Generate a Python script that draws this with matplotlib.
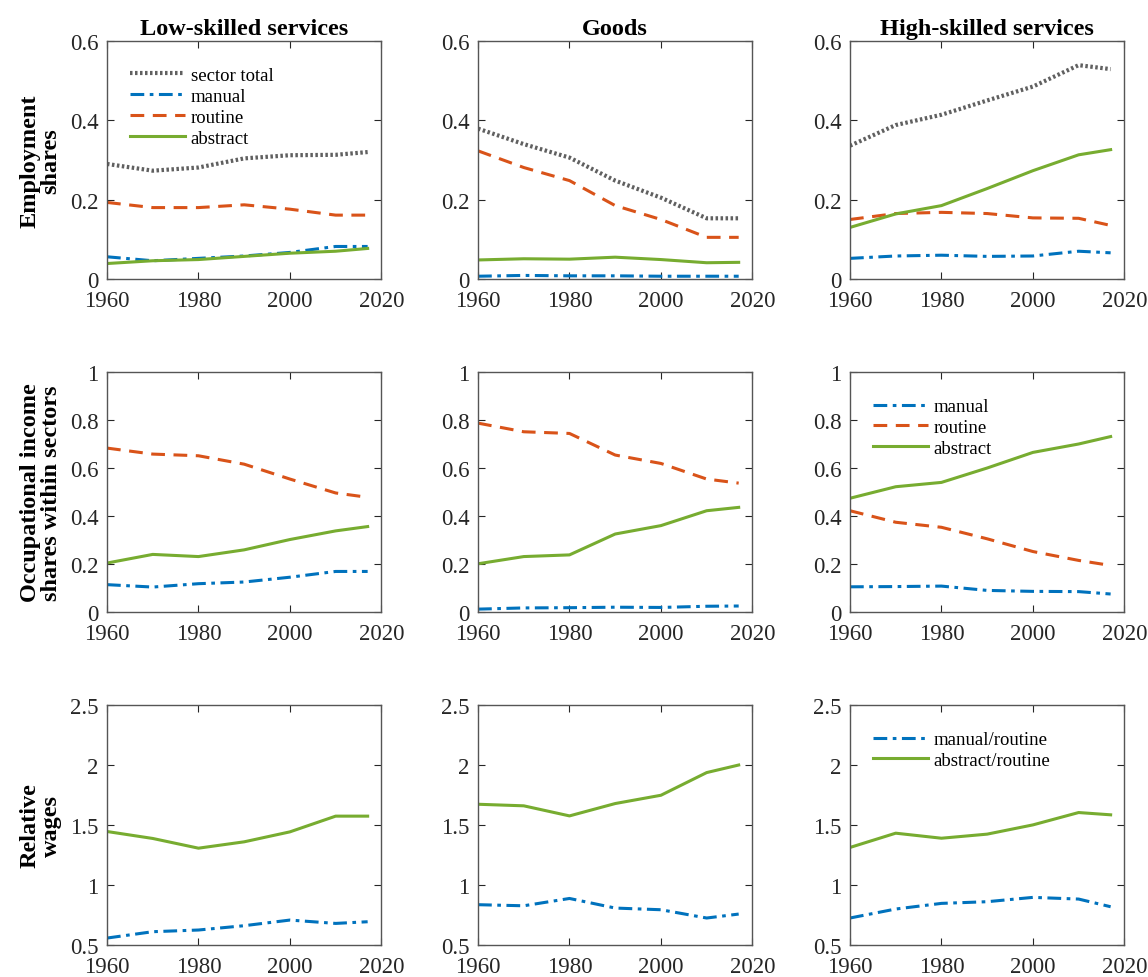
import matplotlib
matplotlib.use('Agg')
import matplotlib.pyplot as plt

plt.rcParams['font.family'] = ['Liberation Serif', 'DejaVu Serif']
plt.rcParams['mathtext.fontset'] = 'stix'

years = [1960, 1970, 1980, 1990, 2000, 2010, 2017]
sectors = ['Low-skilled services', 'Goods', 'High-skilled services']
row_labels = ['Employment\nshares', 'Occupational income\nshares within sectors', 'Relative\nwages']

# employment shares
emp_total = [[0.290, 0.273, 0.281, 0.304, 0.312, 0.313, 0.320],
             [0.379, 0.340, 0.306, 0.248, 0.205, 0.153, 0.153],
             [0.336, 0.388, 0.414, 0.450, 0.485, 0.539, 0.529]]
emp_manual = [[0.056, 0.046, 0.052, 0.058, 0.067, 0.082, 0.082],
              [0.007, 0.009, 0.008, 0.008, 0.007, 0.007, 0.007],
              [0.052, 0.058, 0.060, 0.057, 0.058, 0.070, 0.066]]
emp_routine = [[0.193, 0.180, 0.180, 0.187, 0.176, 0.161, 0.161],
               [0.323, 0.281, 0.248, 0.185, 0.150, 0.105, 0.105],
               [0.150, 0.165, 0.168, 0.165, 0.154, 0.153, 0.135]]
emp_abstract = [[0.039, 0.046, 0.049, 0.057, 0.065, 0.070, 0.077],
                [0.048, 0.051, 0.050, 0.055, 0.049, 0.041, 0.042],
                [0.130, 0.164, 0.185, 0.228, 0.273, 0.313, 0.326]]

# occupational income shares within sectors
inc_manual = [[0.114, 0.104, 0.118, 0.125, 0.145, 0.169, 0.169],
              [0.012, 0.017, 0.018, 0.020, 0.019, 0.024, 0.025],
              [0.105, 0.106, 0.108, 0.090, 0.086, 0.085, 0.075]]
inc_routine = [[0.683, 0.658, 0.651, 0.616, 0.554, 0.496, 0.478],
               [0.787, 0.751, 0.744, 0.654, 0.619, 0.554, 0.537],
               [0.422, 0.374, 0.353, 0.305, 0.252, 0.215, 0.194]]
inc_abstract = [[0.204, 0.240, 0.231, 0.259, 0.302, 0.338, 0.356],
                [0.201, 0.231, 0.238, 0.325, 0.360, 0.422, 0.436],
                [0.474, 0.522, 0.540, 0.600, 0.665, 0.700, 0.731]]

# relative wages
wage_manual = [[0.558, 0.611, 0.625, 0.661, 0.708, 0.680, 0.694],
               [0.836, 0.827, 0.888, 0.808, 0.794, 0.725, 0.758],
               [0.725, 0.800, 0.847, 0.861, 0.897, 0.883, 0.819]]
wage_abstract = [[1.446, 1.388, 1.307, 1.360, 1.443, 1.574, 1.574],
                 [1.673, 1.660, 1.576, 1.679, 1.748, 1.937, 2.000],
                 [1.313, 1.432, 1.390, 1.424, 1.501, 1.604, 1.585]]

c_blue = '#0072BD'
c_orange = '#D95319'
c_green = '#77AC30'
c_grey = '#606060'
lw = 2.2
st_dot = dict(color=c_grey, lw=3.0, ls=(0, (0.6, 0.6)))
st_man = dict(color=c_blue, lw=lw, ls=(0, (4.5, 1.8, 1.2, 1.8)))
st_rou = dict(color=c_orange, lw=lw, ls=(0, (4.5, 2.8)))
st_abs = dict(color=c_green, lw=lw, ls='-')

fig = plt.figure(figsize=(11.48, 9.78), dpi=100)
lefts = [0.0932, 0.4164, 0.7404]
bottoms = [0.7137, 0.3732, 0.0327]
heights = [0.2434, 0.2454, 0.2454]
width = 0.2390

axes = [[fig.add_axes([lefts[j], bottoms[i], width, heights[i]]) for j in range(3)] for i in range(3)]

for j in range(3):
    ax = axes[0][j]
    ax.plot(years, emp_total[j], label='sector total', **st_dot)
    ax.plot(years, emp_manual[j], label='manual', **st_man)
    ax.plot(years, emp_routine[j], label='routine', **st_rou)
    ax.plot(years, emp_abstract[j], label='abstract', **st_abs)
    ax.set_ylim(0, 0.6)
    ax.set_yticks([0, 0.2, 0.4, 0.6])
    ax.set_yticklabels(['0', '0.2', '0.4', '0.6'])
    ax.set_title(sectors[j], fontsize=17.5, fontweight='bold', pad=5)

    ax = axes[1][j]
    ax.plot(years, inc_manual[j], label='manual', **st_man)
    ax.plot(years, inc_routine[j], label='routine', **st_rou)
    ax.plot(years, inc_abstract[j], label='abstract', **st_abs)
    ax.set_ylim(0, 1)
    ax.set_yticks([0, 0.2, 0.4, 0.6, 0.8, 1])
    ax.set_yticklabels(['0', '0.2', '0.4', '0.6', '0.8', '1'])

    ax = axes[2][j]
    ax.plot(years, wage_manual[j], label='manual/routine', **st_man)
    ax.plot(years, wage_abstract[j], label='abstract/routine', **st_abs)
    ax.set_ylim(0.5, 2.5)
    ax.set_yticks([0.5, 1, 1.5, 2, 2.5])
    ax.set_yticklabels(['0.5', '1', '1.5', '2', '2.5'])

for i in range(3):
    for j in range(3):
        ax = axes[i][j]
        ax.set_xlim(1960, 2020)
        ax.set_xticks([1960, 1980, 2000, 2020])
        ax.tick_params(direction='in', top=True, right=True, length=5, width=0.8,
                       labelsize=16.5, colors='#262626')
        ax.tick_params(axis='x', pad=8)
        ax.tick_params(axis='y', pad=6)
        for sp in ax.spines.values():
            sp.set_color('#555555')
            sp.set_linewidth(1.0)
    axes[i][0].set_ylabel(row_labels[i], fontsize=17.5, fontweight='bold', labelpad=6,
                          linespacing=1.0)

leg_kw = dict(frameon=False, fontsize=13.5, handlelength=2.95, handletextpad=0.3,
              labelspacing=0.2, borderaxespad=0.6)
axes[0][0].legend(loc='upper left', bbox_to_anchor=(0.015, 0.97), **leg_kw)
axes[1][2].legend(loc='upper left', bbox_to_anchor=(0.015, 0.97), **leg_kw)
axes[2][2].legend(loc='upper left', bbox_to_anchor=(0.015, 0.97), **leg_kw)

fig.savefig('out.png', dpi=100)
